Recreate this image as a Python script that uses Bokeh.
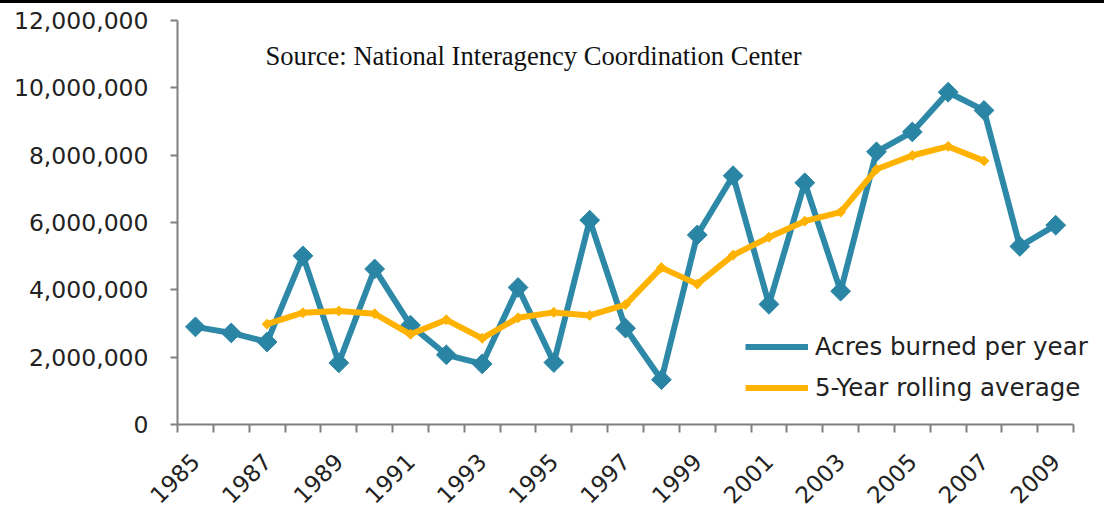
import math
from bokeh.plotting import figure
from bokeh.layouts import column
from bokeh.models import (Range1d, FixedTicker, NumeralTickFormatter, Legend, LegendItem,
                          Label, Div, CDSView, IndexFilter)
from bokeh.embed import file_html
from bokeh.resources import INLINE

years = list(range(1985, 2010))
acres_burned = [2900000, 2720000, 2450000, 5010000, 1830000, 4620000, 2950000, 2070000,
                1800000, 4070000, 1840000, 6070000, 2860000, 1330000, 5630000, 7390000,
                3570000, 7180000, 3960000, 8100000, 8690000, 9870000, 9330000, 5290000,
                5920000]
avg_years = list(range(1987, 2008))
rolling_avg = [2980000, 3320000, 3370000, 3290000, 2680000, 3110000, 2560000, 3170000,
               3330000, 3240000, 3560000, 4660000, 4170000, 5030000, 5560000, 6040000,
               6310000, 7580000, 7990000, 8260000, 7830000]
x_label_years = list(range(1985, 2010, 2))
category_edges = [y - 0.5 for y in range(1985, 2011)]
y_ticks = [0, 2000000, 4000000, 6000000, 8000000, 10000000, 12000000]

BLUE = "#2E89A8"
BLUE_MK = "#2A85A4"
ORANGE = "#FFB300"
AXIS = "#808080"
TXT = "#222222"
FONT = "DejaVu Sans"

p = figure(width=1104, height=510, output_backend="svg", toolbar_location=None,
           x_range=Range1d(1984.5, 2010.25), y_range=Range1d(0, 12000000),
           min_border_left=177, min_border_right=4, min_border_top=17, min_border_bottom=89,
           margin=0)
p.outline_line_color = None
p.xgrid.visible = False
p.ygrid.visible = False
p.background_fill_color = "white"
p.border_fill_color = "white"

# y axis
ya = p.yaxis[0]
ya.ticker = FixedTicker(ticks=y_ticks)
ya.formatter = NumeralTickFormatter(format="0,0")
ya.axis_line_color = AXIS
ya.axis_line_width = 2
ya.major_tick_line_color = AXIS
ya.major_tick_line_width = 2
ya.major_tick_in = 0
ya.major_tick_out = 7
ya.minor_tick_line_color = None
ya.major_label_standoff = 22
ya.major_label_text_font = FONT
ya.major_label_text_font_size = "23.5px"
ya.major_label_text_color = TXT

# x axis
xa = p.xaxis[0]
xa.bounds = (1984.5, 2009.5)
xa.ticker = FixedTicker(ticks=x_label_years, minor_ticks=category_edges)
xa.axis_line_color = AXIS
xa.axis_line_width = 2
xa.major_tick_line_color = None
xa.major_tick_in = 0
xa.major_tick_out = 0
xa.minor_tick_line_color = AXIS
xa.minor_tick_line_width = 2
xa.minor_tick_in = 0
xa.minor_tick_out = 8
xa.major_label_orientation = math.pi / 4
xa.major_label_standoff = 25
xa.major_label_text_font = FONT
xa.major_label_text_font_size = "23px"
xa.major_label_text_color = TXT

# series
l1 = p.line(years, acres_burned, line_color=BLUE, line_width=6)
m1 = p.scatter(years, acres_burned, marker="square", angle=math.pi / 4, size=14,
               fill_color=BLUE_MK, line_color=BLUE_MK)
l2 = p.line(avg_years, rolling_avg, line_color=ORANGE, line_width=6)
m2 = p.scatter(avg_years, rolling_avg, marker="square", angle=math.pi / 4, size=7,
               fill_color=ORANGE, line_color=ORANGE)

# legend-only marker styles: same data, nothing shown in the plot area
k1 = p.scatter(years, acres_burned, marker="diamond", size=15, fill_color=BLUE_MK,
               line_color=BLUE_MK, view=CDSView(filter=IndexFilter([])))
k2 = p.scatter(avg_years, rolling_avg, marker="diamond", size=12, fill_color=ORANGE,
               line_color=ORANGE, view=CDSView(filter=IndexFilter([])))

legend = Legend(items=[LegendItem(label="Acres burned per year", renderers=[l1, k1]),
                       LegendItem(label="5-Year rolling average", renderers=[l2, k2])],
                location=(568, 16), orientation="vertical",
                border_line_color=None, background_fill_alpha=0,
                padding=0, margin=0, spacing=0,
                glyph_width=63, glyph_height=41, label_height=41, label_standoff=7,
                label_text_font=FONT, label_text_font_size="24.5px", label_text_color=TXT)
p.add_layout(legend)

src = Label(x=1986.955, y=10960000, text="Source: National Interagency Coordination Center",
            text_font="Liberation Serif", text_font_size="26.6px", text_color="#111111",
            text_baseline="alphabetic", text_align="left")
p.add_layout(src)

top_bar = Div(text="", width=1104, height=3, margin=0,
              styles={"background-color": "black"})

open("out.html", "w").write(file_html(column(top_bar, p, spacing=0, margin=0), INLINE))
